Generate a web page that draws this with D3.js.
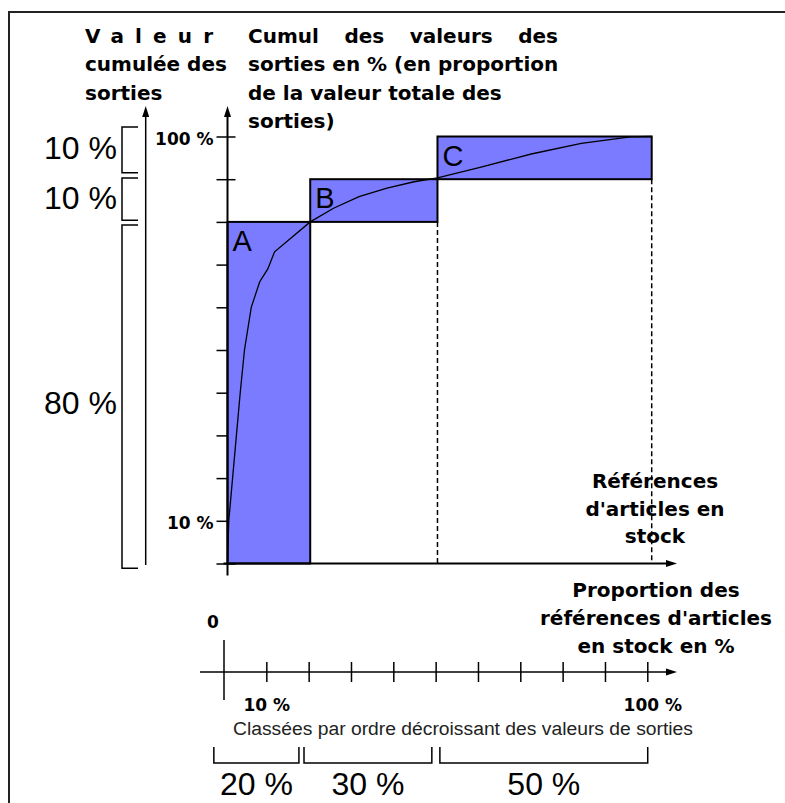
<!DOCTYPE html>
<html>
<head>
<meta charset="utf-8">
<script src="https://cdn.jsdelivr.net/npm/d3@7"></script>
<style>
    body { margin: 0; background: #fff; }
    svg { display: block; }
    .bold { font-family: "DejaVu Sans", Verdana, sans-serif; font-weight: bold; fill: #000; }
    .reg { font-family: "Liberation Sans", Arial, sans-serif; fill: #000; }
</style>
</head>
<body>
<div id="chart"></div>
<script>
// ABC classes: share of references (x, %) and share of cumulated value (y, %)
const classes = ["A", "B", "C"];
const classStart = [0, 19.5, 49.5];
const classEnd = [19.5, 49.5, 100];
const valueLow = [0, 80, 90];
const valueHigh = [80, 90, 100];

// Pareto curve
const curveRefs = [0, 0.3, 1.2, 2.1, 3, 4, 5.6, 7.6, 9.5, 11.1, 19.5, 25, 31, 37.6, 44, 49.5, 60, 71.6, 83.4, 95, 100];
const curveVals = [0, 10, 20, 30, 40, 50, 60, 66, 69, 73, 80, 83.2, 85.9, 87.9, 89.4, 90.3, 92.9, 95.9, 98.4, 99.9, 100];

const yTicks = [0, 10, 20, 30, 40, 50, 60, 70, 80, 90, 100];
const yTickLabels = { 10: "10 %", 100: "100 %" };
const xTicks = [10, 20, 30, 40, 50, 60, 70, 80, 90, 100];
const xTickLabels = { 10: "10 %", 100: "100 %" };

// brackets on the left (value %) and under the bottom axis (references %)
const leftBracketLow = [91.5, 80.4, -1.1];
const leftBracketHigh = [102.2, 90.3, 79.3];
const leftBracketLabels = ["10 %", "10 %", "80 %"];
const leftLabelAt = [97.2, 85.5, 37.5];

const bottomBracketLow = [-2.4, 18.9, 51.0];
const bottomBracketHigh = [17.7, 49.1, 100.1];
const bottomBracketLabels = ["20 %", "30 %", "50 %"];

const leftTitle = ["Valeur", "cumulée des", "sorties"];
const rightTitle = ["Cumul des valeurs des", "sorties en % (en proportion", "de la valeur totale des", "sorties)"];
const axisTitleTop = ["Références", "d'articles en", "stock"];
const axisTitleBottom = ["Proportion des", "références d'articles", "en stock en %"];
const bottomNote = "Classées par ordre décroissant des valeurs de sorties";

const W = 785, H = 803;
const blue = "#7b7bff";

const svg = d3.select("#chart").append("svg")
    .attr("width", W)
    .attr("height", H);

// frame
svg.append("path")
    .attr("d", `M9,${H} V12 H${W}`)
    .attr("fill", "none")
    .attr("stroke", "#222")
    .attr("stroke-width", 2);

const x = d3.scaleLinear().domain([0, 100]).range([227.5, 651.7]);
const y = d3.scaleLinear().domain([0, 100]).range([563.5, 136.5]);
const xb = d3.scaleLinear().domain([0, 100]).range([224, 647.3]);
const bottomAxisY = 672;

function arrowUp(g, cx, tipY) {
    g.append("path")
        .attr("d", `M${cx},${tipY} L${cx - 3.5},${tipY + 11} L${cx + 3.5},${tipY + 11} Z`)
        .attr("fill", "#000");
}
function arrowRight(g, tipX, cy) {
    g.append("path")
        .attr("d", `M${tipX},${cy} L${tipX - 11},${cy - 3.5} L${tipX - 11},${cy + 3.5} Z`)
        .attr("fill", "#000");
}

// y axis ticks (drawn first, the bars hide their right part)
const yAxis = svg.append("g")
    .attr("transform", `translate(${x(0)},0)`)
    .call(d3.axisLeft(y).tickValues(yTicks).tickSize(11).tickFormat(d => yTickLabels[d] || ""));
yAxis.select(".domain").remove();
yAxis.selectAll(".tick line").attr("x1", 8).attr("stroke", "#000").attr("stroke-width", 1.5);
yAxis.selectAll(".tick text")
    .attr("class", "bold")
    .attr("font-size", null)
    .style("font-size", "17px")
    .attr("dy", "0.45em");

// class rectangles
classes.forEach((c, i) => {
    svg.append("rect")
        .attr("x", x(classStart[i]))
        .attr("y", y(valueHigh[i]))
        .attr("width", x(classEnd[i]) - x(classStart[i]))
        .attr("height", y(valueLow[i]) - y(valueHigh[i]))
        .attr("fill", blue)
        .attr("stroke", "#000")
        .attr("stroke-width", 2);
});

// class letters
classes.forEach((c, i) => {
    svg.append("text")
        .attr("class", "reg")
        .attr("x", x(classStart[i]) + 5)
        .attr("y", y(valueHigh[i]) + 29)
        .style("font-size", "29px")
        .text(c);
});

// Pareto curve
const curvePts = curveRefs.map((r, i) => [r, curveVals[i]]);
svg.append("path")
    .datum(curvePts)
    .attr("d", d3.line().x(d => x(d[0])).y(d => y(d[1])))
    .attr("fill", "none")
    .attr("stroke", "#000")
    .attr("stroke-width", 1.3);

// main axes
svg.append("line")
    .attr("x1", x(0)).attr("x2", x(0))
    .attr("y1", y(0) + 12).attr("y2", 112)
    .attr("stroke", "#000").attr("stroke-width", 2);
arrowUp(svg, x(0), 106);
svg.append("line")
    .attr("x1", x(0) - 4).attr("x2", 670)
    .attr("y1", y(0)).attr("y2", y(0))
    .attr("stroke", "#000").attr("stroke-width", 2);
arrowRight(svg, 677, y(0));

// left value axis with brackets
const leftAxisX = 145.7;
svg.append("line")
    .attr("x1", leftAxisX).attr("x2", leftAxisX)
    .attr("y1", 565).attr("y2", 112)
    .attr("stroke", "#000").attr("stroke-width", 1.5);
arrowUp(svg, leftAxisX, 106);

leftBracketLow.forEach((lo, i) => {
    const y0 = y(leftBracketHigh[i]), y1 = y(lo);
    svg.append("path")
        .attr("d", `M138,${y0} H122 V${y1} H138`)
        .attr("fill", "none")
        .attr("stroke", "#000")
        .attr("stroke-width", 1.5);
    svg.append("text")
        .attr("class", "reg")
        .attr("x", 117)
        .attr("y", y(leftLabelAt[i]))
        .attr("text-anchor", "end")
        .attr("dominant-baseline", "central")
        .style("font-size", "32px")
        .text(leftBracketLabels[i]);
});

// titles
const lh = 28.4;
const lt = svg.append("g");
leftTitle.forEach((t, i) => {
    lt.append("text")
        .attr("class", "bold")
        .attr("x", 85)
        .attr("y", 43 + i * lh)
        .style("font-size", "20px")
        .text(t);
});
// spread "Valeur" over the column
const valeur = lt.select("text");
const vw = valeur.node().getComputedTextLength();
valeur.style("letter-spacing", ((128 - vw) / 5) + "px");

rightTitle.forEach((t, i) => {
    const tx = svg.append("text")
        .attr("class", "bold")
        .attr("x", 248)
        .attr("y", 43 + i * lh)
        .style("font-size", "20px")
        .text(t);
    if (i === 0) {
        // first line is justified
        const w = tx.node().getComputedTextLength();
        tx.style("word-spacing", ((310 - w) / 3) + "px");
    }
});

axisTitleTop.forEach((t, i) => {
    svg.append("text")
        .attr("class", "bold")
        .attr("x", 655)
        .attr("y", 488 + i * 27.5)
        .attr("text-anchor", "middle")
        .style("font-size", "20px")
        .text(t);
});

// dashed drop lines from the B and C class limits (over the axis title)
[1, 2].forEach(i => {
    svg.append("line")
        .attr("x1", x(classEnd[i])).attr("x2", x(classEnd[i]))
        .attr("y1", y(valueLow[i])).attr("y2", y(0))
        .attr("stroke", "#000")
        .attr("stroke-width", 1.5)
        .attr("stroke-dasharray", "5,3");
});

axisTitleBottom.forEach((t, i) => {
    svg.append("text")
        .attr("class", "bold")
        .attr("x", 656)
        .attr("y", 597 + i * 28)
        .attr("text-anchor", "middle")
        .style("font-size", "20px")
        .text(t);
});

// bottom reference axis
const bAxis = svg.append("g")
    .attr("transform", `translate(0,${bottomAxisY})`)
    .call(d3.axisBottom(xb).tickValues(xTicks).tickSize(10).tickSizeOuter(0).tickFormat(d => xTickLabels[d] || ""));
bAxis.select(".domain").remove();
bAxis.selectAll(".tick line").attr("y1", -10).attr("stroke", "#000").attr("stroke-width", 1.5);
bAxis.selectAll(".tick text")
    .attr("class", "bold")
    .attr("font-size", null)
    .style("font-size", "17px")
    .attr("y", 39)
    .attr("dy", 0)
    .attr("dx", d => d === 100 ? 5 : 0);

svg.append("line")
    .attr("x1", 200).attr("x2", 670)
    .attr("y1", bottomAxisY).attr("y2", bottomAxisY)
    .attr("stroke", "#000").attr("stroke-width", 1.5);
arrowRight(svg, 677, bottomAxisY);
svg.append("line")
    .attr("x1", xb(0)).attr("x2", xb(0))
    .attr("y1", 640).attr("y2", 700)
    .attr("stroke", "#000").attr("stroke-width", 1.5);
svg.append("text")
    .attr("class", "bold")
    .attr("x", xb(0) - 11)
    .attr("y", 628)
    .attr("text-anchor", "middle")
    .style("font-size", "17px")
    .text("0");

svg.append("text")
    .attr("class", "reg")
    .attr("x", 233)
    .attr("y", 735)
    .attr("textLength", 460)
    .attr("lengthAdjust", "spacingAndGlyphs")
    .style("font-size", "18px")
    .style("fill", "#222")
    .text(bottomNote);

bottomBracketLow.forEach((lo, i) => {
    const x0 = xb(lo), x1 = xb(bottomBracketHigh[i]);
    svg.append("path")
        .attr("d", `M${x0},747 V763 H${x1} V747`)
        .attr("fill", "none")
        .attr("stroke", "#000")
        .attr("stroke-width", 1.5);
    svg.append("text")
        .attr("class", "reg")
        .attr("x", (x0 + x1) / 2)
        .attr("y", 795)
        .attr("text-anchor", "middle")
        .style("font-size", "32px")
        .text(bottomBracketLabels[i]);
});
</script>
</body>
</html>
